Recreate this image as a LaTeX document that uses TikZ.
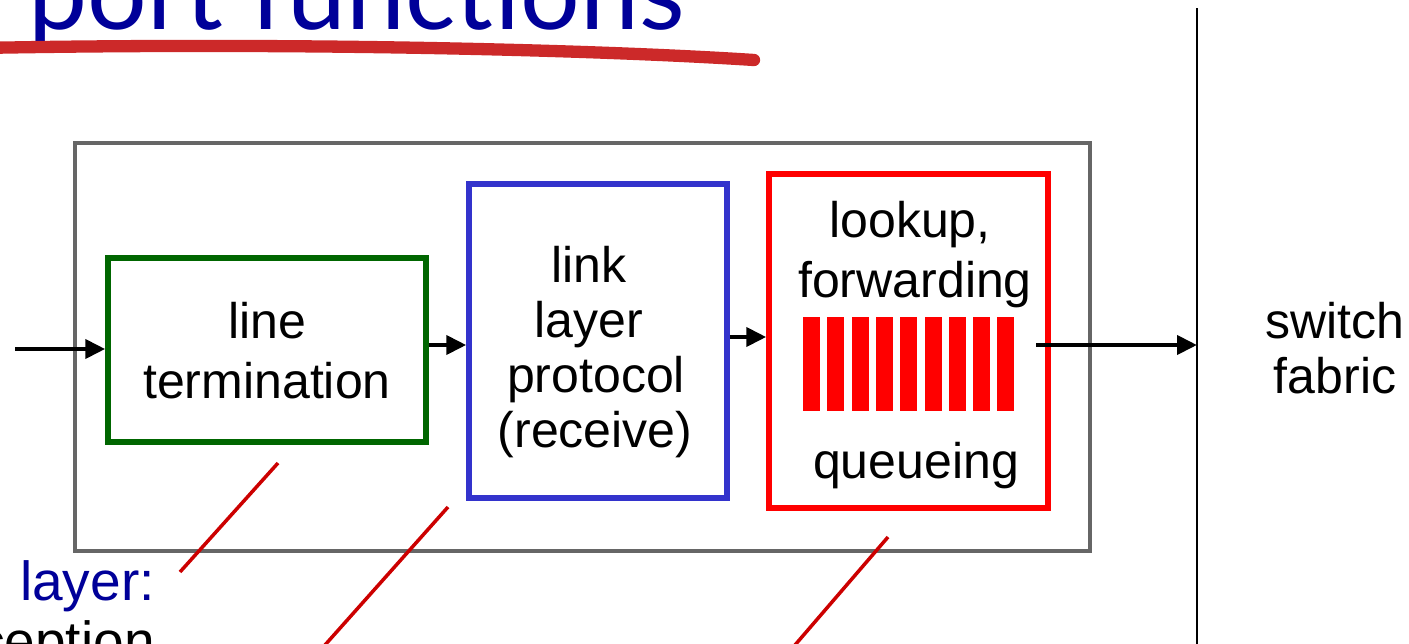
\documentclass[tikz,border=0pt]{standalone}
\usepackage{fontspec}
\setmainfont{Liberation Sans}
\newfontfamily\titlefont{Lato}
\usetikzlibrary{arrows.meta}
\definecolor{slideblue}{HTML}{000099}
\definecolor{ltgreen}{HTML}{006600}
\definecolor{llblue}{HTML}{3333CC}
\definecolor{qred}{HTML}{FF0000}
\definecolor{pointred}{HTML}{CC0000}
\definecolor{underred}{HTML}{CC2929}
\tikzset{
  txt/.style={anchor=base,inner sep=0pt,font=\fontsize{42.7}{51.2}\selectfont},
  unit/.style={draw,line width=4.7pt,inner sep=0pt},
  flow/.style={line width=3.8pt,-{Triangle[length=17pt,width=16pt]}},
  pointer/.style={pointred,line width=3pt}
}
\begin{document}
\begin{tikzpicture}[x=0.03cm,y=-0.03cm]
  \useasboundingbox (0,0) rectangle (1409,643);
  \clip (0,0) rectangle (1409,643);

  \node[anchor=base west,inner sep=0pt,text=slideblue,font=\titlefont\fontsize{90}{100}\selectfont] (title) at (28,29) {port functions};
  \draw[underred,line width=10.5pt,line cap=round] (-20,48) .. controls (300,42) and (600,50) .. (754,60);

  \node[unit,draw=black!60,line width=3pt,minimum width=1015*0.03cm,minimum height=408*0.03cm] (port) at (582.5,347) {};
  \node[unit,draw=ltgreen,minimum width=318*0.03cm,minimum height=184*0.03cm] (term) at (267,350) {};
  \node[unit,draw=llblue,minimum width=258*0.03cm,minimum height=314*0.03cm] (link) at (598,341) {};
  \node[unit,draw=qred,minimum width=279*0.03cm,minimum height=334*0.03cm] (queue) at (908.5,341) {};

  \node[txt] (term1) at (267,338) {line};
  \node[txt] (term2) at (267,398) {termination};
  \node[txt] (link1) at (589,282) {link};
  \node[txt] (link2) at (589,337) {layer};
  \node[txt] (link3) at (596,392) {protocol};
  \node[txt] (link4) at (595,447) {(receive)};
  \node[txt] (queue1) at (910,237) {lookup,};
  \node[txt] (queue2) at (915,297) {forwarding};
  \node[txt] (queue3) at (916,478) {queueing};
  \node[txt] (fab1) at (1335,338) {switch};
  \node[txt] (fab2) at (1335,393) {fabric};

  \foreach \i in {0,...,8}
    \fill[qred] (803+\i*24.3,317) rectangle ++(17,94);

  \coordinate (fabtop) at (1197,8);
  \coordinate (fabbot) at (1197,650);
  \draw[line width=2.5pt] (fabtop) -- (fabbot);

  \coordinate (in) at (15,349);
  \coordinate (qout) at (1036,345);
  \draw[flow] (in) -- (term.west |- in);
  \draw[flow] (term.east |- 0,345) -- (link.west |- 0,345);
  \draw[flow] (link.east |- 0,337) -- (queue.west |- 0,337);
  \draw[flow] (qout) -- (fabtop |- qout);

  \node[txt,anchor=base east,text=slideblue,font=\fontsize{47}{56}\selectfont] (phys1) at (155,600) {layer:};
  \node[txt,anchor=base east,font=\fontsize{47}{56}\selectfont] (phys2) at (155,660) {reception};

  \coordinate (p1) at (180,572);
  \coordinate (p2) at (325,645);
  \coordinate (p3) at (795,645);
  \draw[pointer] (278,463) -- (p1);
  \draw[pointer] (448,507) -- (p2);
  \draw[pointer] (888,537) -- (p3);
\end{tikzpicture}
\end{document}
